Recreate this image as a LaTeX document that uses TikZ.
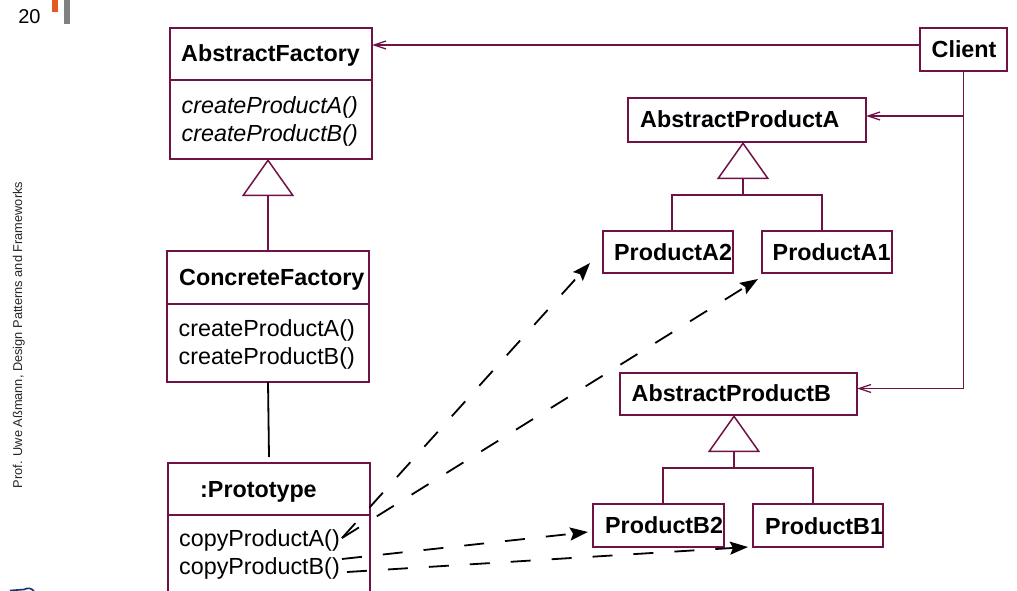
\documentclass[tikz,border=0pt]{standalone}
\usepackage{fontspec}
\setmainfont{Liberation Sans}
\usetikzlibrary{arrows.meta,calc}
\definecolor{umlred}{RGB}{112,18,70}
\definecolor{tuorange}{RGB}{230,88,30}
\definecolor{tugray}{RGB}{128,128,128}
\definecolor{tublue}{RGB}{20,50,110}
\begin{document}
\begin{tikzpicture}[x=1pt,y=-1pt,
  box/.style={draw=umlred,line width=1.7pt,rectangle,inner sep=0pt,outer sep=0pt,fill=white},
  sep/.style={draw=umlred,line width=1.7pt},
  conn/.style={draw=umlred,line width=1.5pt},
  assoc/.style={conn,-{Straight Barb[length=12pt,width=8pt,line width=1.3pt]}},
  inh/.style={conn,-{Triangle[open,length=37pt,width=52pt,line width=1.5pt,fill=white]}},
  dep/.style={draw=black,line width=1.8pt,dash pattern=on 20pt off 21pt,-{Stealth[length=18pt,width=13pt,inset=3pt]}},
  lbl/.style={anchor=base west,inner sep=0pt,font=\fontsize{23.3}{28}\selectfont},
  ilbl/.style={anchor=base west,inner sep=0pt,font=\fontsize{23.3}{28}\selectfont\itshape},
  blbl/.style={anchor=base west,inner sep=0pt,font=\fontsize{23.3}{28}\selectfont\bfseries}]
\path[fill=white] (0,0) rectangle (1017,591);
\useasboundingbox (0,0) rectangle (1017,591);

% slide decorations
\fill[tuorange] (52,0) rectangle (57.5,12.3);
\fill[tugray] (64.3,0) rectangle (70,24.3);
\node[anchor=base,inner sep=0pt,font=\fontsize{20}{24}\selectfont] (pnum) at (29.5,24) {20};
\node[anchor=base,rotate=90,inner sep=0pt,font=\fontsize{12.8}{15}\selectfont,text=black!85] (side) at (22,335) {Prof. Uwe Aßmann, Design Patterns and Frameworks};
\draw[tublue,line width=1.6pt] (10,590.5) -- (24,589.5) .. controls (28,587.5) and (31,588) .. (34,591);

% boxes
\node[box,minimum width=202pt,minimum height=131pt] (af) at (271,93.5) {};
\node[box,minimum width=202pt,minimum height=131pt] (cf) at (268,316.5) {};
\node[box,minimum width=202pt,minimum height=157pt] (proto) at (269,541.5) {};
\node[box,minimum width=87pt,minimum height=43pt] (client) at (963.5,49.5) {};
\node[box,minimum width=238pt,minimum height=44pt] (apa) at (747,120) {};
\node[box,minimum width=130pt,minimum height=42pt] (pa2) at (668,252) {};
\node[box,minimum width=130pt,minimum height=42pt] (pa1) at (827,252) {};
\node[box,minimum width=237pt,minimum height=42pt] (apb) at (738.5,394) {};
\node[box,minimum width=131pt,minimum height=43pt] (pb2) at (658.5,525.5) {};
\node[box,minimum width=130pt,minimum height=43pt] (pb1) at (818,525.5) {};

% compartment separators
\coordinate (yaf) at (0,80);
\coordinate (ycf) at (0,304);
\coordinate (ypr) at (0,515);
\draw[sep] (af.west |- yaf) -- (af.east |- yaf);
\draw[sep] (cf.west |- ycf) -- (cf.east |- ycf);
\draw[sep] (proto.west |- ypr) -- (proto.east |- ypr);

% texts
\node[blbl] (tAF) at (181,62) {AbstractFactory};
\node[ilbl] (tAF1) at (181.5,113.5) {createProductA()};
\node[ilbl] (tAF2) at (181.5,141.5) {createProductB()};
\node[blbl] (tCF) at (179,285) {ConcreteFactory};
\node[lbl] (tCF1) at (178.5,336.5) {createProductA()};
\node[lbl] (tCF2) at (178.5,364.5) {createProductB()};
\node[blbl] (tPr) at (200,497) {:Prototype};
\node[lbl] (tPr1) at (179,546.5) {copyProductA()};
\node[lbl] (tPr2) at (179,574) {copyProductB()};
\node[blbl] (tCl) at (931.5,57.5) {Client};
\node[blbl] (tAPA) at (640,128) {AbstractProductA};
\node[blbl] (tA2) at (614,260) {ProductA2};
\node[blbl] (tA1) at (772.5,260) {ProductA1};
\node[blbl] (tAPB) at (631.5,401.5) {AbstractProductB};
\node[blbl] (tB2) at (605,533.5) {ProductB2};
\node[blbl] (tB1) at (765,534) {ProductB1};

% inheritance: factories
\draw[inh] (cf.north) -- (cf.north |- af.south);
% composition line
\draw[draw=black,line width=1.8pt] (cf.south) -- ($(proto.north)+(0,-6)$);

% inheritance: products
\coordinate (jA) at (743,195);
\coordinate (jB) at (734,468);
\draw[conn] ($(pa2.north)+(4,0)$) |- (jA) -| ($(pa1.north)+(-5,0)$);
\draw[inh] (jA) -- (jA |- apa.south);
\draw[conn] ($(pb2.north)+(4.5,0)$) |- (jB) -| ($(pb1.north)+(-5,0)$);
\draw[inh] (jB) -- (jB |- apb.south);

% client associations
\coordinate (c1) at ($(client.west)+(0,-4.5)$);
\coordinate (ya) at (0,116);
\coordinate (yb) at (0,388.5);
\draw[assoc] (c1) -- (c1 -| af.east);
\draw[conn] (client.south) -- (client.south |- yb);
\draw[assoc] (client.south |- ya) -- (apa.east |- ya);
\draw[assoc] (client.south |- yb) -- (apb.east |- yb);

% prototype copy dependencies
\coordinate (sa) at (342,538);
\coordinate (sb1) at (342,559);
\coordinate (sb2) at (347,572);
\coordinate (ea2) at ($(pa2.south west)+(-13,-10)$);
\coordinate (ea1) at ($(pa1.south west)+(-4,6)$);
\coordinate (eb2) at ($(pb2.west)+(-5,6.5)$);
\coordinate (eb1) at ($(pb1.south west)+(-5,0)$);
\draw[dep] (sa) -- (ea2);
\draw[dep] (sa) -- (ea1);
\draw[dep] (sb1) -- (eb2);
\draw[dep] (sb2) -- (eb1);
\end{tikzpicture}
\end{document}
